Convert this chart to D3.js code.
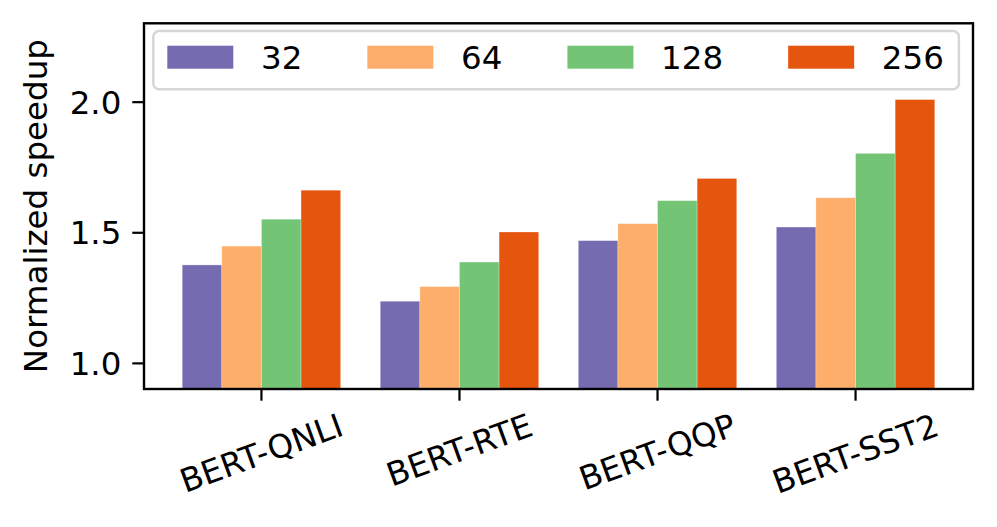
<!DOCTYPE html>
<html><head><meta charset="utf-8">
<script src="https://cdn.jsdelivr.net/npm/d3@7"></script>
<style>body{margin:0;background:#fff}svg{display:block}text{font-family:"DejaVu Sans",sans-serif}</style>
</head><body><svg id="c" width="997" height="527"></svg>
<script>
const categories = ["BERT-QNLI","BERT-RTE","BERT-QQP","BERT-SST2"];
const seriesNames = ["32","64","128","256"];
const s32  = [1.375, 1.236, 1.468, 1.520];
const s64  = [1.447, 1.292, 1.533, 1.632];
const s128 = [1.550, 1.386, 1.621, 1.802];
const s256 = [1.661, 1.501, 1.706, 2.008];
const yTicks = [1.0, 1.5, 2.0];
const colors = ["#756bb1","#fdae6b","#74c476","#e6550d"];
const yLabel = "Normalized speedup";

const series = [s32, s64, s128, s256];
const svg = d3.select("#c");
const L = 144, R = 973, T = 23.3, B = 389;
const FS = 32.5;
const x = d3.scaleBand().domain(categories).range([L, R]).paddingInner(0.2).paddingOuter(0.193);
const xs = d3.scaleBand().domain(seriesNames).range([0, x.bandwidth()]);
const y = d3.scaleLinear().domain([0.9, 2.3]).range([B, T]);

// bars
categories.forEach((c, i) => {
  series.forEach((s, j) => {
    svg.append("rect")
      .attr("x", x(c) + xs(seriesNames[j]))
      .attr("y", y(s[i]))
      .attr("width", xs.bandwidth())
      .attr("height", y(0.9) - y(s[i]))
      .attr("fill", colors[j])
      .attr("stroke", "#fff").attr("stroke-opacity", 0.35).attr("stroke-width", 0.8);
  });
});

// frame
svg.append("rect").attr("x", L).attr("y", T).attr("width", R - L).attr("height", B - T)
  .attr("fill", "none").attr("stroke", "#000").attr("stroke-width", 2.4);

// y axis
const yAxis = svg.append("g").attr("transform", `translate(${L},0)`)
  .call(d3.axisLeft(y).tickValues(yTicks).tickFormat(d3.format(".1f")).tickSize(11.7).tickPadding(11));
yAxis.select(".domain").remove();
yAxis.selectAll(".tick line").attr("stroke", "#000").attr("stroke-width", 2.2);
yAxis.selectAll(".tick text").attr("font-size", FS).attr("fill", "#000")
  .attr("font-family", "DejaVu Sans").attr("dy", "0.36em");

// x axis
const xAxis = svg.append("g").attr("transform", `translate(0,${B})`)
  .call(d3.axisBottom(x).tickSize(11.7).tickFormat(""));
xAxis.select(".domain").remove();
xAxis.selectAll(".tick line").attr("stroke", "#000").attr("stroke-width", 2.2);

// rotated x labels, rotated bbox centered at tick, top aligned
const ang = 20 * Math.PI / 180;
const labTop = 409;
categories.forEach(c => {
  const t = svg.append("text").text(c).attr("font-size", FS).attr("fill", "#000")
    .attr("text-anchor", "middle").attr("dominant-baseline", "central");
  const w = t.node().getComputedTextLength();
  const h = FS * 1.0;
  const H = w * Math.sin(ang) + h * Math.cos(ang);
  const cx = x(c) + x.bandwidth() / 2, cy = labTop + H / 2;
  t.attr("transform", `translate(${cx},${cy}) rotate(-20)`);
});

// y label
svg.append("text").text(yLabel).attr("font-size", FS).attr("fill", "#000")
  .attr("text-anchor", "middle")
  .attr("transform", `translate(47,${(T + B) / 2}) rotate(-90)`);

// legend
const lg = svg.append("g");
const box = lg.append("rect").attr("fill", "#fff").attr("fill-opacity", 0.8)
  .attr("stroke", "#d6d6d6").attr("stroke-width", 2.5).attr("rx", 6);
let cx0 = 167.3;
const patchW = 66, patchH = 23, pad = 27.7, colSp = 65, ly = 57.2;
seriesNames.forEach((n, j) => {
  lg.append("rect").attr("x", cx0).attr("y", ly - patchH / 2).attr("width", patchW).attr("height", patchH)
    .attr("fill", colors[j]);
  const t = lg.append("text").text(n).attr("x", cx0 + patchW + pad).attr("y", ly).attr("dy", "0.36em")
    .attr("font-size", FS).attr("fill", "#000");
  const w = t.node().getComputedTextLength();
  cx0 += patchW + pad + w + (j < seriesNames.length - 1 ? colSp : 0);
});
box.attr("x", 153.3).attr("y", 31).attr("width", cx0 + 15 - 153.3).attr("height", 58.3);
</script></body></html>
